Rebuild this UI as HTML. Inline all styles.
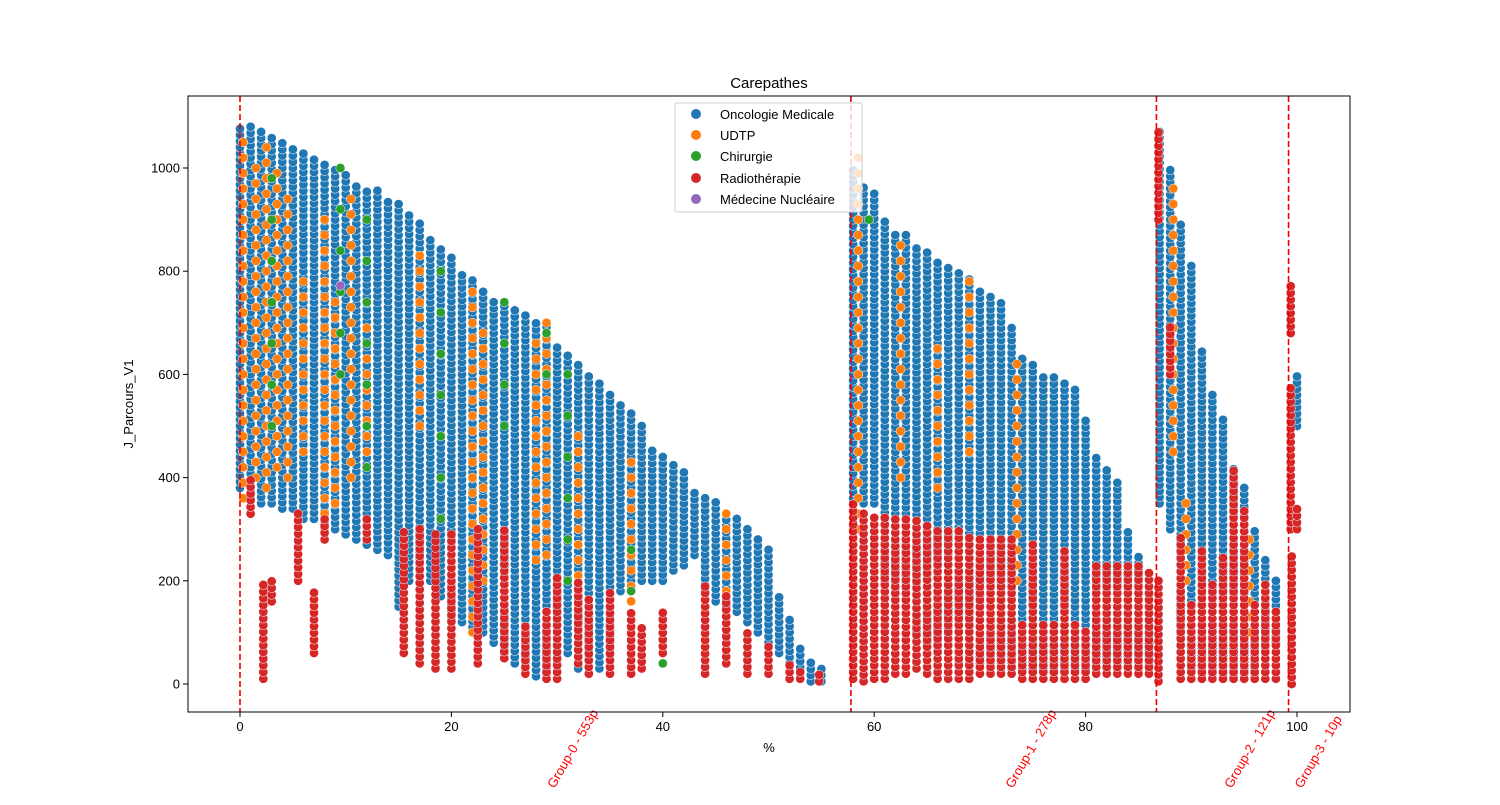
<!DOCTYPE html>
<html><head><meta charset="utf-8"><style>
body{margin:0;background:#fff;font-family:"Liberation Sans",sans-serif}
svg text{font-family:"Liberation Sans",sans-serif}
</style></head><body>
<svg id="chart" width="1500" height="800" xmlns="http://www.w3.org/2000/svg">
<text x="769" y="88" font-size="15" text-anchor="middle">Carepathes</text>
<g id="marks"></g>
<g id="axes"></g>
<rect x="188" y="96" width="1162" height="616" fill="none" stroke="#000" stroke-width="1"/>
<text x="769" y="752" font-size="13" text-anchor="middle">%</text>
<text x="133" y="404" font-size="13" text-anchor="middle" transform="rotate(-90 133 404)">J_Parcours_V1</text>
<g>
<rect x="675" y="103" width="187" height="109" fill="#fff" fill-opacity="0.8" stroke="#ccc" rx="2"/>
<circle cx="696" cy="114" r="5" fill="#1f77b4"/><text x="720" y="119" font-size="13">Oncologie Medicale</text>
<circle cx="696" cy="135" r="5" fill="#ff7f0e"/><text x="720" y="140" font-size="13">UDTP</text>
<circle cx="696" cy="156" r="5" fill="#2ca02c"/><text x="720" y="161" font-size="13">Chirurgie</text>
<circle cx="696" cy="178" r="5" fill="#d62728"/><text x="720" y="183" font-size="13">Radiothérapie</text>
<circle cx="696" cy="199" r="5" fill="#9467bd"/><text x="720" y="204" font-size="13">Médecine Nucléaire</text>
</g>
</svg>
<script>
const xTicks=[0,20,40,60,80,100];
const yTicks=[0,200,400,600,800,1000];
const groupX=[0,57.8,86.7,99.2];
const groupLabelX=[28.9,72.25,92.95,99.6];
const groupLabels=["Group-0 - 553p","Group-1 - 278p","Group-2 - 121p","Group-3 - 10p"];
const blueX=[0,1,2,3,4,5,6,7,8,9,10,11,12,13,14,15,16,17,18,19,20,21,22,23,24,25,26,27,28,29,30,31,32,33,34,35,36,37,38,39,40,41,42,43,44,45,46,47,48,49,50,51,52,53,54,55,
58,59,60,61,62,63,64,65,66,67,68,69,70,71,72,73,74,75,76,77,78,79,80,81,82,83,84,85,86,
87,88,89,90,91,92,93,94,95,96,97,98,100];
const blueTop=[1085,1080,1070,1060,1055,1045,1030,1020,1010,1000,990,975,960,960,940,930,910,900,870,850,830,800,790,760,750,740,730,720,710,700,660,640,625,600,590,570,540,530,510,460,450,430,410,380,370,360,330,320,310,280,260,170,130,70,50,30,
1000,970,960,900,880,870,850,840,820,810,800,790,770,760,740,700,640,620,600,600,590,580,520,440,420,400,300,250,180,
1080,1000,900,820,650,560,520,420,380,300,250,200,600];
const blueBot=[380,360,350,350,340,340,320,320,310,300,290,280,270,260,250,150,200,220,200,170,130,120,110,100,80,60,40,30,15,20,40,60,30,20,30,20,180,200,200,200,200,220,230,250,180,160,150,140,120,100,80,60,40,20,5,5,
300,350,350,200,150,150,100,80,60,50,40,40,40,30,30,30,30,30,30,30,30,30,30,30,30,30,30,30,30,
350,300,50,30,20,20,20,20,20,20,60,80,500];
const orangeX=[0.3,1.5,2.5,3.5,4.5,6,8,9,10.5,12,17,22,23,28,29,32,37,46,58.5,62.5,66,69,73.5,88.3,89.5,95.5];
const orangeTop=[1050,1000,1040,1000,950,800,900,750,950,700,850,780,700,660,700,500,450,330,1030,850,650,780,620,960,360,300];
const orangeBot=[360,400,380,420,400,450,300,350,400,450,500,100,200,240,250,150,160,180,300,400,380,450,200,450,200,100];
const redX=[1,2.2,3,5.5,7,8,12,15.5,17,18.5,20,22.5,25,27,29,30,32,33,35,37,38,40,44,46,48,50,52,53,54.8,
58,59,60,61,62,63,64,65,66,67,68,69,70,71,72,73,74,75,76,77,78,79,80,81,82,83,84,85,86,
86.9,86.9,88,89,90,91,92,93,94,95,96,97,98,99.4,99.4,99.5,100];
const redTop=[400,200,200,330,180,330,320,300,310,300,300,300,300,120,150,210,200,170,180,140,110,150,200,170,100,80,40,30,20,
360,340,330,330,330,320,320,310,300,300,300,290,290,290,290,280,120,270,120,120,260,120,110,240,240,230,230,230,220,
1070,200,700,290,160,260,200,250,420,340,160,200,150,780,580,250,340];
const redBot=[330,10,160,200,60,280,280,60,40,30,30,40,50,20,10,10,40,20,20,20,30,60,20,40,20,20,10,10,5,
10,5,10,10,20,20,30,20,10,10,10,10,20,20,20,20,10,10,10,10,10,10,10,20,20,20,20,20,20,
900,5,600,10,10,10,10,10,10,10,10,10,10,680,300,0,300];
const greenX=[3,9.5,12,19,25,29,31,37,40,59.5];
const greenTop=[1040,1000,970,860,750,720,650,300,80,940];
const greenBot=[500,600,420,320,500,600,200,100,40,900];

const X0=188,X1=1350,Y0=96,Y1=712;
const xs=v=>240+v*10.57;
const ys=v=>684-v*0.516;
const NS="http://www.w3.org/2000/svg";
const marks=document.getElementById('marks'),axes=document.getElementById('axes');
function mk(t,a,p){const e=document.createElementNS(NS,t);for(const k in a)e.setAttribute(k,a[k]);p.appendChild(e);return e;}
function series(X,T,B,color,step,name){
  const g=mk('g',{},marks);
  
  
  for(let i=0;i<X.length;i++){
    for(let v=B[i];v<=T[i];v+=step){
      mk('circle',{cx:xs(X[i]).toFixed(1),cy:ys(v).toFixed(1),r:4.6,fill:color,stroke:'#fff','stroke-width':0.5},g);
    }
  }
}
series(blueX,blueTop,blueBot,'#1f77b4',12,'series-oncologie');
series(orangeX,orangeTop,orangeBot,'#ff7f0e',30,'series-udtp');
series(greenX,greenTop,greenBot,'#2ca02c',80,'series-chirurgie');
series(redX,redTop,redBot,'#d62728',13,'series-radiotherapie');
const pg=mk('circle',{cx:xs(9.5),cy:ys(772),r:4.6,fill:'#9467bd',stroke:'#fff','stroke-width':0.5},marks);


xTicks.forEach(t=>{const x=xs(t);mk('line',{x1:x,x2:x,y1:Y1,y2:Y1+5,stroke:'#000'},axes);
  const tx=mk('text',{x:x,y:Y1+19,'font-size':13,'text-anchor':'middle'},axes);tx.textContent=t;
  
  });
yTicks.forEach(t=>{const y=ys(t);mk('line',{x1:X0-5,x2:X0,y1:y,y2:y,stroke:'#000'},axes);
  const tx=mk('text',{x:X0-8,y:y+4.5,'font-size':13,'text-anchor':'end'},axes);tx.textContent=t;
  
  });
groupX.forEach((g,i)=>{const x=xs(g);
  const l=mk('line',{x1:x,x2:x,y1:Y0,y2:Y1,stroke:'#e00','stroke-width':1.6,'stroke-dasharray':'6,3'},axes);
  
  
  const lx=xs(groupLabelX[i]);
  const tx=mk('text',{x:0,y:0,'font-size':13,fill:'red','text-anchor':'start',transform:`translate(${lx+9},${789}) rotate(-60)`},axes);
  tx.textContent=groupLabels[i];
  
  });
</script>
</body></html>
